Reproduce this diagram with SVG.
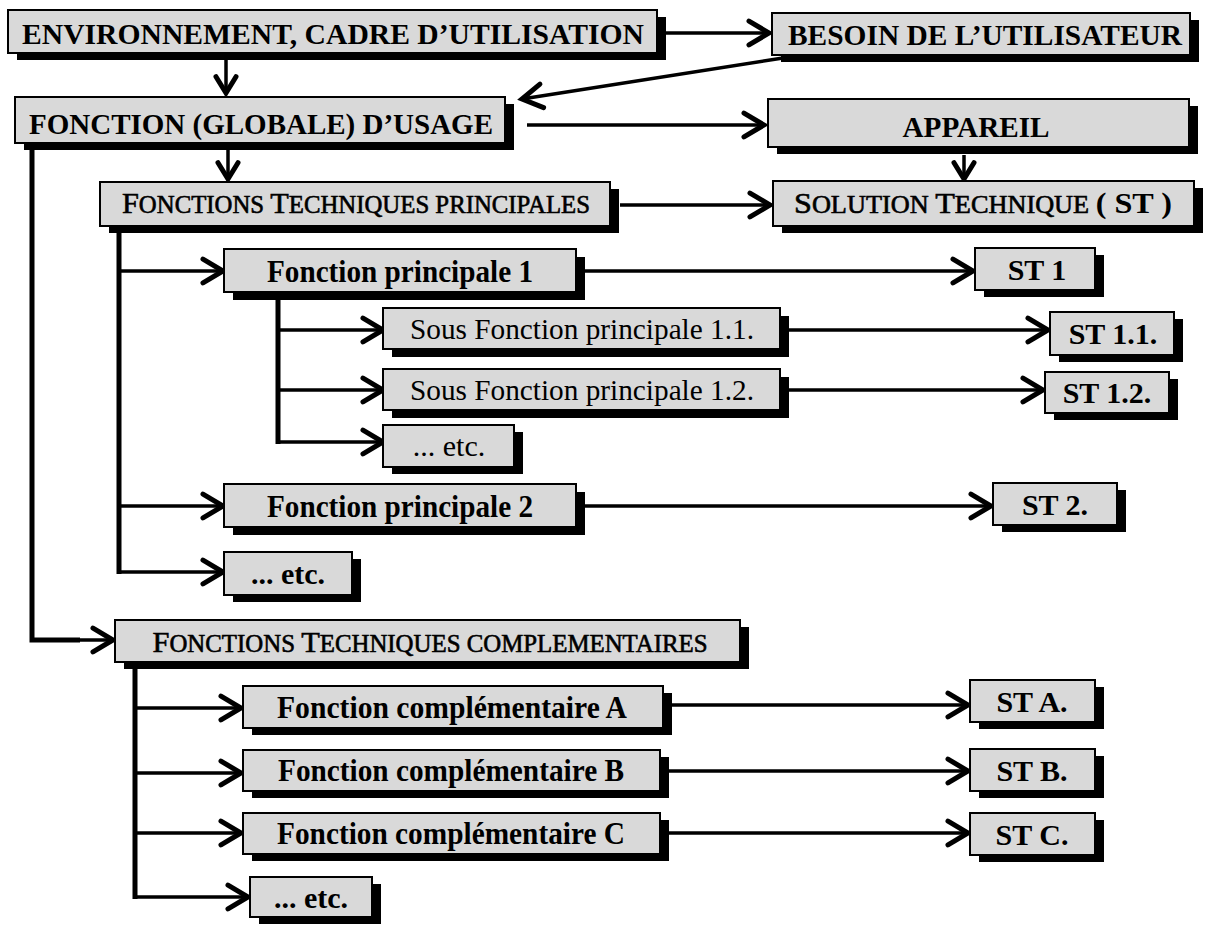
<svg xmlns="http://www.w3.org/2000/svg" width="1210" height="926" viewBox="0 0 1210 926">
<defs>
<style>
.sh{fill:#000}
.bx{fill:#d9d9d9;stroke:#000;stroke-width:2}
.t{font-family:"Liberation Serif","Times New Roman",serif;font-size:30px;fill:#000;text-anchor:middle}
.b{font-weight:bold}
.m{font-size:31.5px}
.sc{stroke:#000;stroke-width:0.6}
.s{font-size:24.5px}
.c{fill:none;stroke:#000;stroke-width:3.5;stroke-linecap:butt}
.tr{fill:none;stroke:#000;stroke-width:5}
</style>
<marker id="ah" markerUnits="userSpaceOnUse" markerWidth="30" markerHeight="30" refX="0" refY="0" viewBox="-20 -12 24 24" orient="auto" overflow="visible">
<path d="M-16,-9.5 L0,0 L-16,9.5" fill="none" stroke="#000" stroke-width="4" stroke-linecap="round" stroke-linejoin="miter"/>
</marker>
<marker id="ahs" markerUnits="userSpaceOnUse" markerWidth="30" markerHeight="30" refX="0" refY="0" viewBox="-20 -12 24 24" orient="auto" overflow="visible">
<path d="M-13,-8 L0,0 L-13,8" fill="none" stroke="#000" stroke-width="4" stroke-linecap="round" stroke-linejoin="miter"/>
</marker>
</defs>
<rect width="1210" height="926" fill="#fff"/>

<g id="connectors">
<line class="c" x1="665" y1="33" x2="769" y2="33" marker-end="url(#ah)"/>
<line class="c" x1="226" y1="60" x2="226" y2="93" marker-end="url(#ahs)"/>
<line class="c" x1="783" y1="58" x2="522" y2="99" marker-end="url(#ah)"/>
<line class="c" x1="527" y1="125" x2="764" y2="125" marker-end="url(#ah)"/>
<line class="c" x1="228" y1="150" x2="228" y2="179" marker-end="url(#ahs)"/>
<line class="c" x1="964" y1="155" x2="964" y2="179" marker-end="url(#ahs)"/>
<line class="c" x1="620" y1="205" x2="770" y2="205" marker-end="url(#ah)"/>
<polyline class="tr" points="119,225 119,574"/>
<line class="c" x1="119" y1="271" x2="223" y2="271" marker-end="url(#ah)"/>
<line class="c" x1="119" y1="506" x2="223" y2="506" marker-end="url(#ah)"/>
<line class="c" x1="119" y1="572" x2="223" y2="572" marker-end="url(#ah)"/>
<polyline class="tr" points="278,293 278,444"/>
<line class="c" x1="278" y1="330" x2="383" y2="330" marker-end="url(#ah)"/>
<line class="c" x1="278" y1="390" x2="383" y2="390" marker-end="url(#ah)"/>
<line class="c" x1="278" y1="442" x2="383" y2="442" marker-end="url(#ah)"/>
<line class="c" x1="584" y1="271" x2="973" y2="271" marker-end="url(#ah)"/>
<line class="c" x1="789" y1="330" x2="1048" y2="330" marker-end="url(#ah)"/>
<line class="c" x1="789" y1="390" x2="1043" y2="390" marker-end="url(#ah)"/>
<line class="c" x1="584" y1="506" x2="991" y2="506" marker-end="url(#ah)"/>
<polyline class="tr" points="32,143 32,640 80,640"/>
<line class="c" x1="32" y1="640" x2="113" y2="640" marker-end="url(#ah)"/>
<polyline class="tr" points="135,662 135,899"/>
<line class="c" x1="135" y1="708" x2="241" y2="708" marker-end="url(#ah)"/>
<line class="c" x1="135" y1="773" x2="241" y2="773" marker-end="url(#ah)"/>
<line class="c" x1="135" y1="833" x2="241" y2="833" marker-end="url(#ah)"/>
<line class="c" x1="135" y1="897" x2="248" y2="897" marker-end="url(#ah)"/>
<line class="c" x1="672" y1="705" x2="968" y2="705" marker-end="url(#ah)"/>
<line class="c" x1="669" y1="771" x2="968" y2="771" marker-end="url(#ah)"/>
<line class="c" x1="669" y1="833" x2="968" y2="833" marker-end="url(#ah)"/>
</g>

<g id="env"><rect class="sh" x="17" y="17" width="649" height="43"/><rect class="bx" x="8" y="10" width="649" height="43"/><text class="t b" x="333" y="44" textLength="622" lengthAdjust="spacingAndGlyphs">ENVIRONNEMENT, CADRE D’UTILISATION</text></g>
<g id="besoin"><rect class="sh" x="781" y="20" width="418" height="42"/><rect class="bx" x="772" y="13" width="418" height="42"/><text class="t b" x="985" y="45" textLength="394" lengthAdjust="spacingAndGlyphs">BESOIN DE L’UTILISATEUR</text></g>
<g id="fonction"><rect class="sh" x="24" y="104" width="490" height="46"/><rect class="bx" x="15" y="97" width="490" height="46"/><text class="t b" x="261" y="134" textLength="464" lengthAdjust="spacingAndGlyphs">FONCTION (GLOBALE) D’USAGE</text></g>
<g id="appareil"><rect class="sh" x="777" y="106" width="421" height="48"/><rect class="bx" x="768" y="99" width="421" height="48"/><text class="t b" x="976" y="137" textLength="147" lengthAdjust="spacingAndGlyphs">APPAREIL</text></g>
<g id="ftp"><rect class="sh" x="109" y="189" width="510" height="44"/><rect class="bx" x="100" y="182" width="510" height="44"/><text class="t sc" x="356" y="213" textLength="468" lengthAdjust="spacingAndGlyphs">F<tspan class="s">ONCTIONS </tspan>T<tspan class="s">ECHNIQUES PRINCIPALES</tspan></text></g>
<g id="solution"><rect class="sh" x="782" y="188" width="421" height="45"/><rect class="bx" x="773" y="181" width="421" height="45"/><text class="t sc" x="983" y="213" textLength="378" lengthAdjust="spacingAndGlyphs">S<tspan class="s">OLUTION </tspan>T<tspan class="s">ECHNIQUE </tspan><tspan font-weight="bold" stroke-width="0">( ST )</tspan></text></g>
<g id="fp1"><rect class="sh" x="233" y="257" width="352" height="43"/><rect class="bx" x="224" y="249" width="352" height="43"/><text class="t b m" x="400" y="282" textLength="266" lengthAdjust="spacingAndGlyphs">Fonction principale 1</text></g>
<g id="st1"><rect class="sh" x="984" y="255" width="120" height="42"/><rect class="bx" x="975" y="248" width="120" height="42"/><text class="t b" x="1037" y="280">ST 1</text></g>
<g id="s11"><rect class="sh" x="392" y="316" width="397" height="41"/><rect class="bx" x="383" y="308" width="397" height="41"/><text class="t" x="582" y="339" textLength="344" lengthAdjust="spacingAndGlyphs">Sous Fonction principale 1.1.</text></g>
<g id="st11"><rect class="sh" x="1059" y="319" width="124" height="43"/><rect class="bx" x="1050" y="312" width="124" height="43"/><text class="t b" x="1113" y="344">ST 1.1.</text></g>
<g id="s12"><rect class="sh" x="392" y="377" width="397" height="41"/><rect class="bx" x="383" y="369" width="397" height="41"/><text class="t" x="582" y="400" textLength="344" lengthAdjust="spacingAndGlyphs">Sous Fonction principale 1.2.</text></g>
<g id="st12"><rect class="sh" x="1054" y="379" width="124" height="41"/><rect class="bx" x="1045" y="372" width="124" height="41"/><text class="t b" x="1107" y="403">ST 1.2.</text></g>
<g id="etc1"><rect class="sh" x="392" y="432" width="131" height="42"/><rect class="bx" x="383" y="425" width="131" height="42"/><text class="t" x="449" y="456">... etc.</text></g>
<g id="fp2"><rect class="sh" x="233" y="492" width="352" height="43"/><rect class="bx" x="224" y="484" width="352" height="43"/><text class="t b m" x="400" y="517" textLength="266" lengthAdjust="spacingAndGlyphs">Fonction principale 2</text></g>
<g id="st2"><rect class="sh" x="1002" y="490" width="124" height="42"/><rect class="bx" x="993" y="483" width="124" height="42"/><text class="t b" x="1055" y="515">ST 2.</text></g>
<g id="etc2"><rect class="sh" x="233" y="559" width="128" height="43"/><rect class="bx" x="224" y="552" width="128" height="43"/><text class="t b" x="288" y="584">... etc.</text></g>
<g id="ftc"><rect class="sh" x="124" y="627" width="625" height="42"/><rect class="bx" x="115" y="620" width="625" height="42"/><text class="t sc" x="430" y="652" textLength="555" lengthAdjust="spacingAndGlyphs">F<tspan class="s">ONCTIONS </tspan>T<tspan class="s">ECHNIQUES COMPLEMENTAIRES</tspan></text></g>
<g id="fca"><rect class="sh" x="252" y="693" width="420" height="42"/><rect class="bx" x="243" y="686" width="420" height="42"/><text class="t b m" x="452" y="718" textLength="350" lengthAdjust="spacingAndGlyphs">Fonction complémentaire A</text></g>
<g id="fcb"><rect class="sh" x="252" y="757" width="417" height="41"/><rect class="bx" x="243" y="750" width="417" height="41"/><text class="t b m" x="451" y="781" textLength="346" lengthAdjust="spacingAndGlyphs">Fonction complémentaire B</text></g>
<g id="fcc"><rect class="sh" x="252" y="820" width="417" height="41"/><rect class="bx" x="243" y="813" width="417" height="41"/><text class="t b m" x="451" y="844" textLength="348" lengthAdjust="spacingAndGlyphs">Fonction complémentaire C</text></g>
<g id="etc3"><rect class="sh" x="259" y="884" width="122" height="40"/><rect class="bx" x="250" y="877" width="122" height="40"/><text class="t b" x="311" y="908">... etc.</text></g>
<g id="sta"><rect class="sh" x="979" y="687" width="125" height="42"/><rect class="bx" x="970" y="680" width="125" height="42"/><text class="t b" x="1032" y="712">ST A.</text></g>
<g id="stb"><rect class="sh" x="979" y="756" width="125" height="42"/><rect class="bx" x="970" y="749" width="125" height="42"/><text class="t b" x="1032" y="781">ST B.</text></g>
<g id="stc"><rect class="sh" x="979" y="820" width="125" height="42"/><rect class="bx" x="970" y="813" width="125" height="42"/><text class="t b" x="1032" y="845">ST C.</text></g>
</svg>
